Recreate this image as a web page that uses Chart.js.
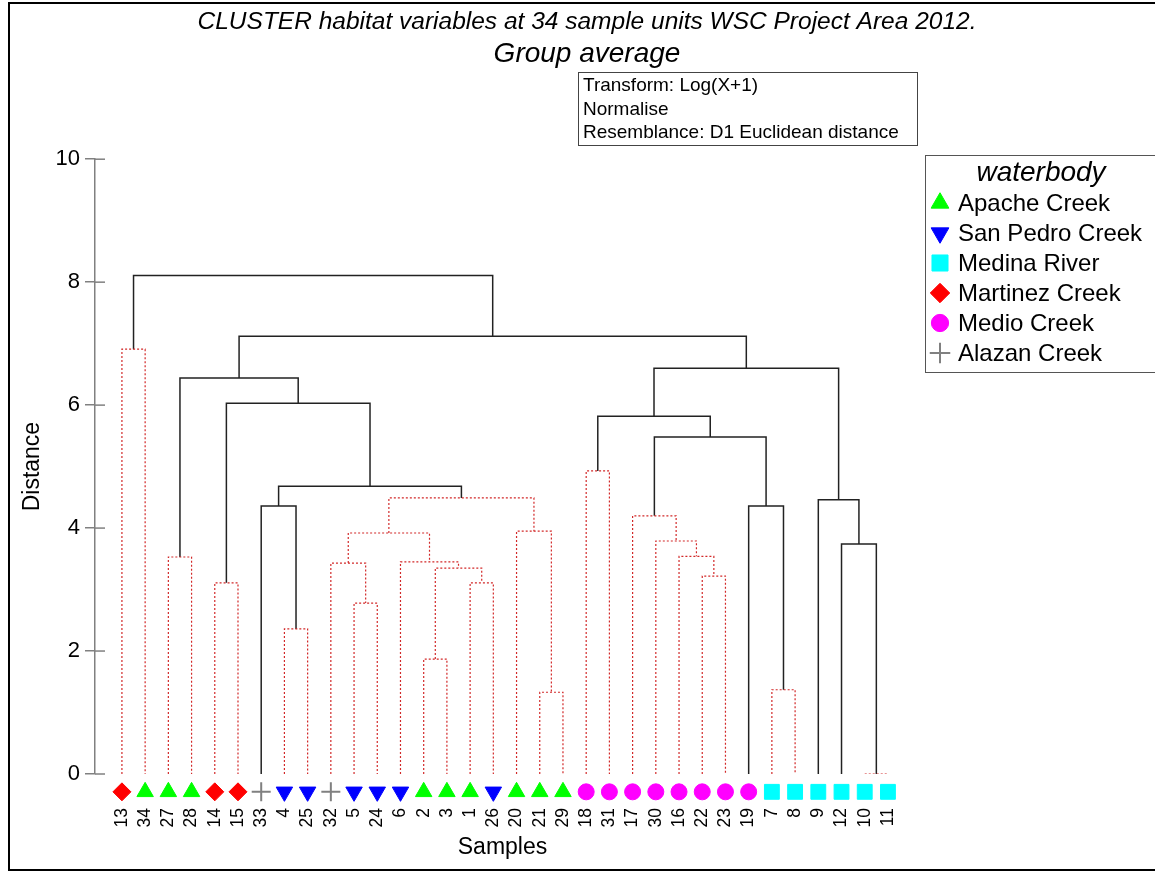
<!DOCTYPE html>
<html>
<head>
<meta charset="utf-8">
<script src="https://cdn.jsdelivr.net/npm/chart.js@4.4.1/dist/chart.umd.min.js"></script>
<style>
  body { margin: 0; background: #fff; font-family: "Liberation Sans", Arial, sans-serif; }
  #wrap { position: relative; width: 1155px; height: 871px; overflow: hidden; }
  #frame { position: absolute; left: 8px; top: 2px; width: 1160px; height: 869px; border: 2px solid #000; box-sizing: border-box; pointer-events: none; }
  #info { position: absolute; left: 578px; top: 72px; width: 340px; height: 74px; border: 1px solid #444; box-sizing: border-box; font-size: 19px; line-height: 23.5px; padding-left: 4px; color: #000; }
  #legend { position: absolute; left: 925px; top: 155px; width: 232px; height: 218px; border: 1px solid #555; box-sizing: border-box; color: #000; }
  #legend .ttl { font-style: italic; font-size: 28px; text-align: center; line-height: 32px; }
  #legend .item { position: relative; height: 30px; line-height: 30px; font-size: 24px; padding-left: 32px; white-space: nowrap; }
  #legend canvas { position: absolute; left: 2px; top: 3px; }
</style>
</head>
<body>
<div id="wrap">
  <canvas id="dendro" width="1155" height="871"></canvas>
  <div id="info">Transform: Log(X+1)<br>Normalise<br>Resemblance: D1 Euclidean distance</div>
  <div id="legend"><div class="ttl">waterbody</div></div>
  <div id="frame"></div>
</div>
<script>
// leaf order along the x axis
var samples = ['13','34','27','28','14','15','33','4','25','32','5','24','6','2','3','1','26',
               '20','21','29','18','31','17','30','16','22','23','19','7','8','9','12','10','11'];
var waterbody = ['Martinez Creek','Apache Creek','Apache Creek','Apache Creek','Martinez Creek','Martinez Creek',
                 'Alazan Creek','San Pedro Creek','San Pedro Creek','Alazan Creek','San Pedro Creek','San Pedro Creek',
                 'San Pedro Creek','Apache Creek','Apache Creek','Apache Creek','San Pedro Creek','Apache Creek',
                 'Apache Creek','Apache Creek','Medio Creek','Medio Creek','Medio Creek','Medio Creek','Medio Creek',
                 'Medio Creek','Medio Creek','Medio Creek','Medina River','Medina River','Medina River','Medina River',
                 'Medina River','Medina River'];
var groups = ['Apache Creek','San Pedro Creek','Medina River','Martinez Creek','Medio Creek','Alazan Creek'];

// merges: children are sample labels or 'n' + merge number
var joinLeft   = ['10','21','7','2','4','5','1','14','22','n3','32','6','27','16','12','30','n10','20','17','33','19','9',
                  'n16','n19','18','n18','n24','n7','n12','n26','13','n28','n30'];
var joinRight  = ['11','29','8','3','25','24','26','15','23','n6','n5','n9','28','n8','n0','n13','n11','n1','n15','n4','n2','n14',
                  'n17','n22','31','n20','n25','n23','n27','n21','34','n29','n31'];
var joinHeight = [0.0, 1.33, 1.37, 1.87, 2.36, 2.78, 3.11, 3.11, 3.22, 3.35, 3.43, 3.45, 3.53, 3.54, 3.74, 3.79, 3.92, 3.95,
                  4.20, 4.36, 4.36, 4.46, 4.49, 4.68, 4.93, 5.48, 5.82, 6.03, 6.44, 6.60, 6.91, 7.12, 8.11];
var joinDotted = [1,1,1,1,1,1,1,1,1,1,1,1,1,1,0,1,1,1,1,0,0,0,1,0,1,0,0,0,0,0,1,0,0];

var yTicks = [0, 2, 4, 6, 8, 10];

var markerStyle = {
  'Apache Creek':    { pointStyle: 'triangle', rotation: 0,   radius: 9.5,  color: '#00ff00' },
  'San Pedro Creek': { pointStyle: 'triangle', rotation: 180, radius: 9.5,  color: '#0000ff' },
  'Medina River':    { pointStyle: 'rect',     rotation: 0,   radius: 10.5, color: '#00ffff' },
  'Martinez Creek':  { pointStyle: 'rectRot',  rotation: 0,   radius: 9,    color: '#ff0000' },
  'Medio Creek':     { pointStyle: 'circle',   rotation: 0,   radius: 8,    color: '#ff00ff' },
  'Alazan Creek':    { pointStyle: 'cross',    rotation: 0,   radius: 9.5,  color: '#808080' }
};
var markerY = -0.29;
var FONT = '"Liberation Sans", Arial, sans-serif';

function paintMarker(ctx, st, x, y, scale) {
  ctx.save();
  ctx.fillStyle = st.color; ctx.strokeStyle = st.color;
  ctx.lineWidth = st.pointStyle === 'cross' ? 2 : 1;
  Chart.helpers.drawPoint(ctx, { pointStyle: st.pointStyle, rotation: st.rotation, radius: st.radius * (scale || 1), borderWidth: ctx.lineWidth }, x, y);
  ctx.restore();
}

// position and height of every node
function nodePos(ref) {
  if (ref.charAt(0) === 'n') {
    var k = parseInt(ref.slice(1));
    return { x: (nodePos(joinLeft[k]).x + nodePos(joinRight[k]).x) / 2, y: joinHeight[k] };
  }
  return { x: samples.indexOf(ref), y: 0 };
}

var datasets = [];
for (var k = 0; k < joinHeight.length; k++) {
  var a = nodePos(joinLeft[k]), b = nodePos(joinRight[k]), h = joinHeight[k];
  datasets.push({
    label: 'n' + k,
    data: [{ x: a.x, y: a.y }, { x: a.x, y: h }, { x: b.x, y: h }, { x: b.x, y: b.y }],
    showLine: true, pointRadius: 0, fill: false, tension: 0,
    borderColor: joinDotted[k] ? '#d22828' : '#222222',
    borderWidth: joinDotted[k] ? 1.2 : 1.5,
    borderDash: joinDotted[k] ? [2, 2] : []
  });
}

// leaf symbols sit under the zero line, outside the plot area, so they are painted here
var leafMarkers = {
  id: 'leafMarkers',
  afterDatasetsDraw: function(chart) {
    var ctx = chart.ctx, xs = chart.scales.x, ys = chart.scales.y;
    samples.forEach(function(s, i) {
      paintMarker(ctx, markerStyle[waterbody[i]], xs.getPixelForValue(i), ys.getPixelForValue(markerY));
    });
    // inner half of the y tick marks
    ctx.save();
    ctx.strokeStyle = '#808080'; ctx.lineWidth = 1.5;
    yTicks.forEach(function(v) {
      var py = ys.getPixelForValue(v);
      ctx.beginPath(); ctx.moveTo(chart.chartArea.left, py); ctx.lineTo(chart.chartArea.left + 10, py); ctx.stroke();
    });
    ctx.restore();
  }
};

new Chart(document.getElementById('dendro'), {
  type: 'scatter',
  data: { datasets: datasets },
  plugins: [leafMarkers],
  options: {
    responsive: false,
    animation: false,
    events: [],
    layout: { padding: { left: 19, right: 0, top: 0, bottom: 0 } },
    plugins: {
      legend: { display: false },
      tooltip: { enabled: false },
      title: {
        display: true,
        text: 'CLUSTER habitat variables at 34 sample units WSC Project Area 2012.',
        color: '#000', font: { family: FONT, size: 24.5, style: 'italic', weight: 'normal' },
        padding: { top: 7, bottom: 0 }
      },
      subtitle: {
        display: true, text: 'Group average',
        color: '#000', font: { family: FONT, size: 28, style: 'italic', weight: 'normal' },
        padding: { top: 1, bottom: 88.2 }
      }
    },
    scales: {
      x: {
        type: 'linear', min: -1.16, max: 33.95,
        afterFit: function(s) { s.height = 97; },
        afterBuildTicks: function(s) { s.ticks = samples.map(function(_, i) { return { value: i }; }); },
        grid: { display: false },
        border: { display: false },
        ticks: {
          autoSkip: false, minRotation: 90, maxRotation: 90, padding: 26,
          color: '#000', font: { family: FONT, size: 17.5 },
          callback: function(v) { return samples[v]; }
        },
        title: { display: true, text: 'Samples', color: '#000', font: { family: FONT, size: 23 }, padding: 10 }
      },
      y: {
        min: 0, max: 10,
        afterFit: function(s) { s.width = 76; },
        afterBuildTicks: function(s) { s.ticks = yTicks.map(function(v) { return { value: v }; }); },
        grid: { drawOnChartArea: false, drawTicks: true, tickLength: 10, color: '#808080', lineWidth: 1.5 },
        border: { display: true, color: '#808080', width: 1.5 },
        ticks: { color: '#000', padding: 5, font: { family: FONT, size: 22 } },
        title: { display: true, text: 'Distance', color: '#000', font: { family: FONT, size: 23 }, padding: 0 }
      },
      ySpace: {
        position: 'right', display: true,
        afterFit: function(s) { s.width = 245; },
        grid: { display: false }, border: { display: false }, ticks: { display: false }
      }
    }
  }
});

// legend built from the same marker styles
var legendBox = document.getElementById('legend');
groups.forEach(function(g) {
  var row = document.createElement('div');
  row.className = 'item';
  var c = document.createElement('canvas');
  c.width = 24; c.height = 24;
  paintMarker(c.getContext('2d'), markerStyle[g], 12, 12, 1.08);
  row.appendChild(c);
  row.appendChild(document.createTextNode(g));
  legendBox.appendChild(row);
});
</script>
</body>
</html>
